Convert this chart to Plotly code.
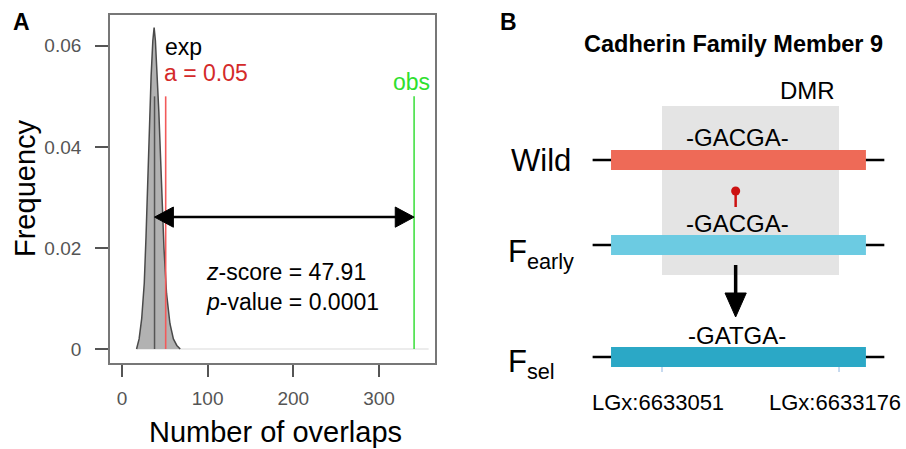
import plotly.graph_objects as go

# ---------------- Panel A data ----------------
overlap_x = [17, 20, 23, 26, 28, 30, 32, 34, 36, 37.5, 39, 41, 43, 45, 47, 49, 52, 56, 60, 64, 68]
overlap_freq = [0, 0.002, 0.006, 0.013, 0.022, 0.034, 0.045, 0.054, 0.061, 0.0636, 0.061,
                0.055, 0.047, 0.038, 0.028, 0.020, 0.011, 0.005, 0.002, 0.0007, 0]
exp_value = 38
alpha_value = 51
obs_value = 341
line_top = 0.05
arrow_freq = 0.0261
x_ticks = [0, 100, 200, 300]
y_ticks = [0, 0.02, 0.04, 0.06]
y_tick_text = ["0", "0.02", "0.04", "0.06"]
z_score = "47.91"
p_value = "0.0001"

# ---------------- Panel B data ----------------
genotypes = ["Wild", "F<sub>early</sub>", "F<sub>sel</sub>"]
sequences = ["-GACGA-", "-GACGA-", "-GATGA-"]
dmr_start = 6633051
dmr_end = 6633176
gene_start = 6633015
gene_end = 6633195
flank_start = 6633002
flank_end = 6633208
snp_pos = 6633103
pos_labels = ["LGx:6633051", "LGx:6633176"]

FONT = "Liberation Sans, Arial, Helvetica, sans-serif"
W, H = 906, 449

fig = go.Figure()

# density polygon
fig.add_trace(go.Scatter(x=overlap_x, y=overlap_freq, mode="lines", fill="toself",
                         fillcolor="rgb(178,178,178)", line=dict(color="#4a4a4a", width=1.5),
                         hoverinfo="skip", showlegend=False, xaxis="x", yaxis="y"))

shapes = []
# baseline
shapes.append(dict(type="line", xref="x", yref="y", x0=overlap_x[0], x1=358, y0=0, y1=0,
                   line=dict(color="#e6e6e6", width=1.5), layer="below"))
# exp line
shapes.append(dict(type="line", xref="x", yref="y", x0=exp_value, x1=exp_value, y0=0, y1=line_top,
                   line=dict(color="#555555", width=1.5)))
# alpha line
shapes.append(dict(type="line", xref="x", yref="y", x0=alpha_value, x1=alpha_value, y0=0, y1=line_top,
                   line=dict(color="#f25a5a", width=1.6)))
# obs line
shapes.append(dict(type="line", xref="x", yref="y", x0=obs_value, x1=obs_value, y0=0, y1=line_top,
                   line=dict(color="#44e044", width=1.6)))
# double arrow
head_len = 22
head_h = 0.002
shapes.append(dict(type="line", xref="x", yref="y", x0=exp_value + 5, x1=obs_value - 5,
                   y0=arrow_freq, y1=arrow_freq, line=dict(color="black", width=2.5)))
shapes.append(dict(type="path", xref="x", yref="y",
                   path=f"M {exp_value},{arrow_freq} L {exp_value+head_len},{arrow_freq+head_h} "
                        f"L {exp_value+head_len},{arrow_freq-head_h} Z",
                   fillcolor="black", line=dict(color="black", width=1)))
shapes.append(dict(type="path", xref="x", yref="y",
                   path=f"M {obs_value},{arrow_freq} L {obs_value-head_len},{arrow_freq+head_h} "
                        f"L {obs_value-head_len},{arrow_freq-head_h} Z",
                   fillcolor="black", line=dict(color="black", width=1)))

# ---------------- Panel B shapes (x2 genomic, y2 pixel rows) ----------------
row_y = [160, 245, 357]
bar_half = 10
bar_colors = ["#ee6a57", "#6ccbe2", "#2ba8c6"]

# DMR box
shapes.append(dict(type="rect", xref="x2", yref="y2", x0=dmr_start, x1=dmr_end, y0=106, y1=275,
                   fillcolor="#e4e4e4", line=dict(width=0), layer="below"))
for i, yy in enumerate(row_y):
    shapes.append(dict(type="line", xref="x2", yref="y2", x0=flank_start, x1=flank_end, y0=yy, y1=yy,
                       line=dict(color="black", width=2.5)))
    shapes.append(dict(type="rect", xref="x2", yref="y2", x0=gene_start, x1=gene_end,
                       y0=yy - bar_half, y1=yy + bar_half, fillcolor=bar_colors[i],
                       line=dict(width=0), opacity=1))
# position ticks
for p in [dmr_start, dmr_end]:
    shapes.append(dict(type="line", xref="x2", yref="y2", x0=p, x1=p, y0=367, y1=372,
                       line=dict(color="#8fb5e0", width=1)))
# lollipop
shapes.append(dict(type="line", xref="x2", yref="y2", x0=snp_pos, x1=snp_pos, y0=191, y1=207,
                   line=dict(color="#cc1111", width=2.5)))
shapes.append(dict(type="circle", xref="x2", yref="y2", x0=snp_pos - 3.2, x1=snp_pos + 3.2,
                   y0=186.5, y1=195.5, fillcolor="#cc1111", line=dict(width=0)))
# down arrow
shapes.append(dict(type="line", xref="x2", yref="y2", x0=snp_pos, x1=snp_pos, y0=265, y1=296,
                   line=dict(color="black", width=3.5)))
shapes.append(dict(type="path", xref="x2", yref="y2",
                   path=f"M {snp_pos-7.5},293 L {snp_pos+7.5},293 L {snp_pos},317 Z",
                   fillcolor="black", line=dict(color="black", width=1)))

ann = []
def A(text, x, y, xref, yref, size, color="black", xanchor="center", yanchor="middle", **kw):
    ann.append(dict(text=text, x=x, y=y, xref=xref, yref=yref, showarrow=False,
                    font=dict(family=FONT, size=size, color=color),
                    xanchor=xanchor, yanchor=yanchor, **kw))

# Panel A text
A("<b>A</b>", 21 / W, 1 - 22 / H, "paper", "paper", 23)
A("exp", 47.5, 0.0598, "x", "y", 23, xanchor="left")
A("a = 0.05", 46.5, 0.0547, "x", "y", 23, color="#d42a2a", xanchor="left")
A("obs", 362, 0.0529, "x", "y", 23, color="#2ee02e", xanchor="right")
A(f"<i>z</i>-score = {z_score}", 96, 0.0152, "x", "y", 23, xanchor="left")
A(f"<i>p</i>-value = {p_value}", 96, 0.0093, "x", "y", 23, xanchor="left")
A("Frequency", 25 / W, 1 - 188 / H, "paper", "paper", 29, textangle=-90)
A("Number of overlaps", 275 / W, 1 - 432 / H, "paper", "paper", 29)

# Panel B text
A("<b>B</b>", 508 / W, 1 - 22 / H, "paper", "paper", 23)
A("<b>Cadherin Family Member 9</b>", 733 / W, 1 - 44 / H, "paper", "paper", 23.5)
A("DMR", 6633154, 90, "x2", "y2", 24)
A(genotypes[0], 573 / W, 1 - 160 / H, "paper", "paper", 31, xanchor="right")
A(genotypes[1], 506 / W, 1 - 254 / H, "paper", "paper", 31, xanchor="left")
A(genotypes[2], 506 / W, 1 - 364 / H, "paper", "paper", 31, xanchor="left")
seq_y = [137, 223, 335]
for s, yy in zip(sequences, seq_y):
    A(s, snp_pos + 1, yy, "x2", "y2", 24)
for lab, p in zip(pos_labels, [dmr_start, dmr_end]):
    A(lab, p - 3, 402, "x2", "y2", 22)

fig.update_layout(
    width=W, height=H, margin=dict(l=0, r=0, t=0, b=0),
    paper_bgcolor="white", plot_bgcolor="white",
    showlegend=False, shapes=shapes, annotations=ann,
    font=dict(family=FONT),
    xaxis=dict(domain=[110 / W, 435 / W], range=[-14.0, 365.4], tickvals=x_ticks,
               ticks="outside", ticklen=12, tickwidth=1.5, tickcolor="#555555",
               showline=True, mirror=True, linecolor="#777777", linewidth=1.8,
               showgrid=False, zeroline=False, ticklabelstandoff=5,
               tickfont=dict(family=FONT, size=19, color="#555555")),
    yaxis=dict(domain=[1 - 363 / H, 1 - 15 / H], range=[-0.00277, 0.0661], tickvals=y_ticks,
               ticktext=y_tick_text, ticks="outside", ticklen=13, tickwidth=1.5,
               tickcolor="#555555", showline=True, mirror=True, linecolor="#777777",
               linewidth=1.8, showgrid=False, zeroline=False, ticklabelstandoff=10,
               tickfont=dict(family=FONT, size=19, color="#555555")),
    xaxis2=dict(domain=[0.5, 1.0], range=[6632903.4, 6633223.3], visible=False,
                showgrid=False, zeroline=False, anchor="y2"),
    yaxis2=dict(domain=[0, 1], range=[H, 0], visible=False, showgrid=False, zeroline=False,
                anchor="x2"),
)
# invisible trace so that the second axis pair exists
fig.add_trace(go.Scatter(x=[dmr_start], y=[0], xaxis="x2", yaxis="y2", mode="markers",
                         marker=dict(opacity=0), hoverinfo="skip", showlegend=False))

fig.write_html("out.html", config={"displayModeBar": False},
               post_script="document.body.style.margin='0px';document.body.style.overflow='hidden';")
